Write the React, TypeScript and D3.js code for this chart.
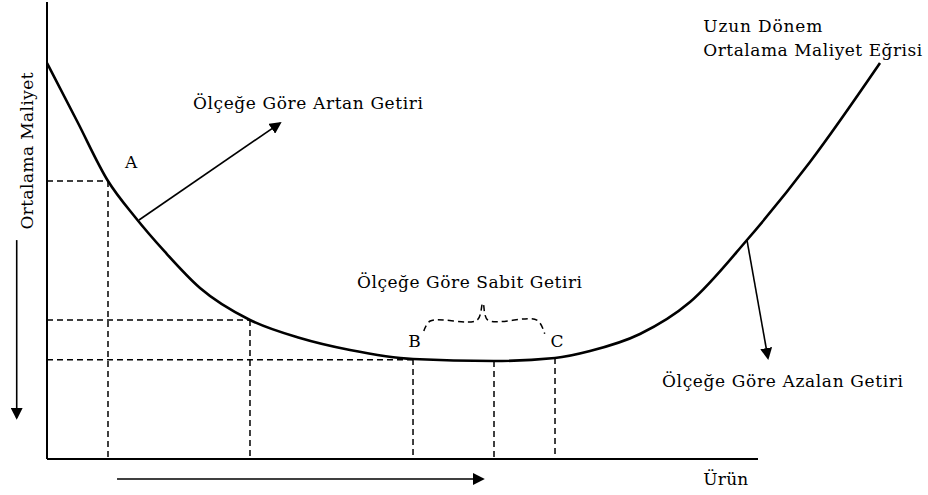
import React from "react";
import * as d3 from "d3";

// ---------- data (chart units: x 0..100 along Ürün axis, y 0..100 along cost axis) ----------
const curveX = [0, 4.22, 8.58, 12.38, 16.6, 21.52, 28.55, 35.58, 42.62, 51.48, 62.87, 71.45, 76.37, 83.4, 90.44, 98.45, 107.31, 117.16];
const curveY = [86.65, 73.96, 60.83, 52.95, 45.3, 37.42, 30.42, 26.48, 23.85, 21.88, 21.44, 22.1, 23.63, 27.35, 34.35, 47.92, 64.99, 86.65];

// reference (dashed) levels
const hLevels = [60.83, 30.42, 21.7];        // horizontal dashed lines (y)
const hEnds = [8.58, 28.55, 51.48];          // where each horizontal ends (x)
const vLevels = [8.58, 28.55, 51.48, 62.87, 71.45]; // vertical dashed lines (x)
const vTops = [60.83, 30.42, 21.88, 21.44, 22.1];   // top of each vertical (y)

// brace over constant returns (B..C)
const braceX = [53.0, 53.9, 60.5, 61.3, 62.0, 68.9, 70.0];
const braceY = [28.0, 30.2, 30.4, 34.1, 30.4, 30.4, 27.4];

// annotation arrows [x1, y1, x2, y2]
const arrowArtan = [12.94, 52.3, 32.77, 73.5];
const arrowAzalan = [98.45, 47.9, 101.4, 22.1];
const arrowYAxis = [-4.26, 47.9, -4.26, 9.0];
const arrowXAxis = [9.85, -4.38, 61.3, -4.38];

// labels
const labelTexts = [
  "Ölçeğe Göre Artan Getiri",
  "Ölçeğe Göre Sabit Getiri",
  "Ölçeğe Göre Azalan Getiri",
  "Uzun Dönem",
  "Ortalama Maliyet Eğrisi",
  "Ürün",
  "A",
  "B",
  "C",
];
const labelX = [20.53, 43.6, 86.5, 92.3, 92.3, 92.3, 10.98, 50.8, 70.8];
const labelY = [76.6, 37.4, 15.75, 93.4, 88.2, -5.69, 63.7, 24.5, 24.5];
const labelW = [230, 225, 241, 119, 219, 45, 14, 12, 13];

const yAxisLabel = "Ortalama Maliyet";

const W = 928;
const H = 495;
const FONT = "DejaVu Serif, Liberation Serif, serif";

export default function App() {
  const x = d3.scaleLinear().domain([0, 100]).range([47, 758]);
  const y = d3.scaleLinear().domain([0, 100]).range([459, 2]);

  const curvePts: [number, number][] = curveX.map((v, i) => [x(v), y(curveY[i])]);
  const curvePath = d3.line().curve(d3.curveMonotoneX)(curvePts) || "";

  const bracePts: [number, number][] = braceX.map((v, i) => [x(v), y(braceY[i])]);
  const bracePath = d3.line().curve(d3.curveCatmullRom.alpha(0.5))(bracePts) || "";

  const dash = "6,4";

  const arrow = (a: number[], key: string) => (
    <line
      key={key}
      x1={x(a[0])}
      y1={y(a[1])}
      x2={x(a[2])}
      y2={y(a[3])}
      stroke="#000"
      strokeWidth={1.6}
      markerEnd="url(#head)"
    />
  );

  const textStyle = { fontFamily: FONT, fontSize: "17px", fontWeight: 400 as const };

  return (
    <svg
      width={W}
      height={H}
      style={{ position: "absolute", left: 0, top: 0, background: "#fff" }}
    >
      <defs>
        <marker
          id="head"
          viewBox="0 0 12 12"
          refX={10}
          refY={6}
          markerWidth={12}
          markerHeight={12}
          markerUnits="userSpaceOnUse"
          orient="auto"
        >
          <path d="M0,0 L12,6 L0,12 Z" fill="#000" />
        </marker>
      </defs>

      {/* dashed guides */}
      <g stroke="#000" strokeWidth={1.5} strokeDasharray={dash} fill="none">
        {hLevels.map((lv, i) => (
          <line key={"h" + i} x1={x(0)} x2={x(hEnds[i])} y1={y(lv)} y2={y(lv)} />
        ))}
        {vLevels.map((lv, i) => (
          <line key={"v" + i} x1={x(lv)} x2={x(lv)} y1={y(vTops[i])} y2={y(0)} />
        ))}
        <path d={bracePath} />
      </g>

      {/* axes */}
      <line x1={x(0)} x2={x(0)} y1={y(100)} y2={y(0)} stroke="#000" strokeWidth={2} />
      <line x1={x(0)} x2={x(100)} y1={y(0)} y2={y(0)} stroke="#000" strokeWidth={2} />

      {/* LRAC curve */}
      <path d={curvePath} fill="none" stroke="#000" strokeWidth={2.6} />

      {/* arrows */}
      {arrow(arrowArtan, "a1")}
      {arrow(arrowAzalan, "a2")}
      {arrow(arrowYAxis, "a3")}
      {arrow(arrowXAxis, "a4")}

      {/* labels */}
      <g fill="#000">
        {labelTexts.map((t, i) => (
          <text
            key={"t" + i}
            x={x(labelX[i])}
            y={y(labelY[i])}
            style={textStyle}
            textLength={labelW[i]}
            lengthAdjust="spacing"
          >
            {t}
          </text>
        ))}
        <text
          transform={`translate(${x(-1.97)},${y(67.4)}) rotate(-90)`}
          textAnchor="middle"
          style={textStyle}
          textLength={157}
          lengthAdjust="spacing"
        >
          {yAxisLabel}
        </text>
      </g>
    </svg>
  );
}
